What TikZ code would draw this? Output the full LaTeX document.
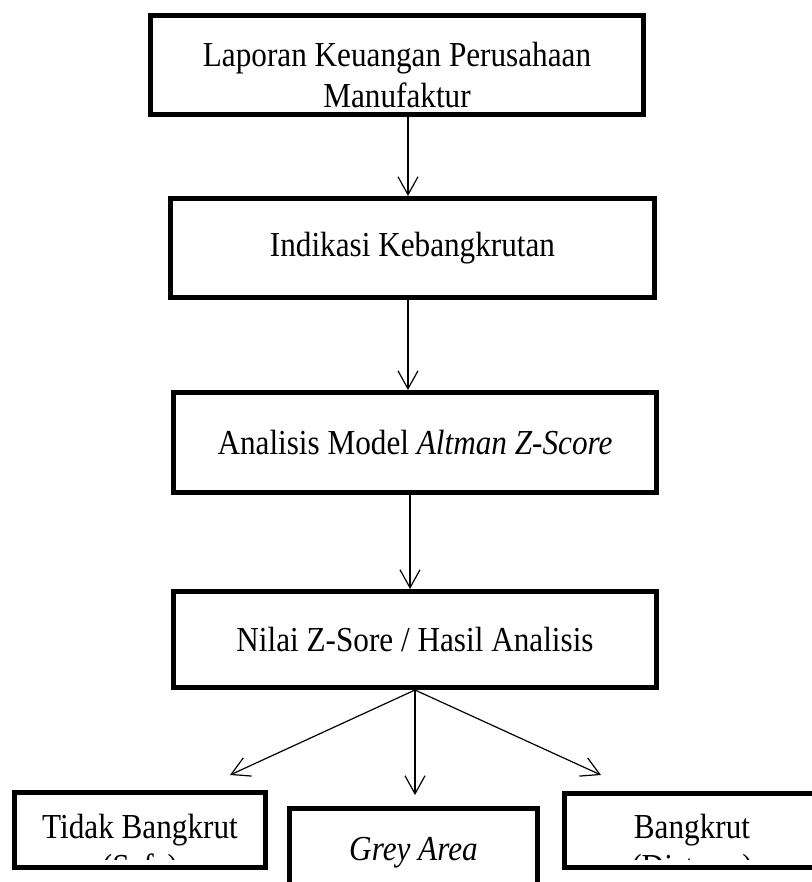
\documentclass[tikz,border=0pt]{standalone}
\usepackage{fontspec}
\setmainfont{Liberation Serif}[FakeStretch=0.89]
\usetikzlibrary{arrows.meta}

\begin{document}
\begin{tikzpicture}[x=0.75pt, y=-0.75pt,
    every node/.style={font=\fontsize{26.3}{31}\selectfont},
    kotak/.style={draw, line width=4pt, inner sep=0pt, align=center},
    panah/.style={-{Straight Barb[length=13.5pt,width=15pt]}, line width=0.9pt}]
    \useasboundingbox (0,0) rectangle (811,882);
    % Kotak alur utama
    \node[kotak, minimum width=369.5pt, minimum height=74pt] (laporan) at (397,65) {};
    \node[align=center] (laporanTeks) at (397,75) {Laporan Keuangan Perusahaan\\Manufaktur};
    \node[kotak, minimum width=362.75pt, minimum height=74pt] (indikasi) at (412.5,248)
        {Indikasi Kebangkrutan};
    \node[kotak, minimum width=362pt, minimum height=74.75pt] (analisis) at (415,442.5)
        {Analisis Model \textit{Altman Z-Score}};
    \node[kotak, minimum width=362pt, minimum height=71.75pt] (hasil) at (415,639.5)
        {Nilai Z-Sore / Hasil Analisis};
    % Kotak hasil klasifikasi
    \node[kotak, minimum width=188pt, minimum height=56pt] (aman) at (140,830)
        {Tidak Bangkrut};
    \node[kotak, minimum width=185.75pt, minimum height=66.5pt] (abu) at (413.5,853)
        {\textit{Grey Area}};
    \node[kotak, minimum width=191pt, minimum height=55.25pt] (bangkrut) at (692,830.5)
        {Bangkrut};
    % Baris kedua yang terpotong
    \begin{scope}
        \clip (0,845) rectangle (811,859);
        \node[anchor=base] (amanKet) at (140,878) {(Safe)};
        \node[anchor=base] (bangkrutKet) at (692,878) {(Distress)};
    \end{scope}
    % Panah antar kotak
    \draw[panah] ([xshift=8.25pt]laporan.south) -- ([xshift=8.25pt]laporan.south |- indikasi.north);
    \draw[panah] ([xshift=-3.4pt]indikasi.south) -- ([xshift=-3.4pt]indikasi.south |- analisis.north);
    \draw[panah] ([xshift=-3.75pt]analisis.south) -- ([xshift=-3.75pt]analisis.south |- hasil.north);
    % Panah ke tiga kategori
    \coordinate (ujungAman) at (230,775);
    \coordinate (ujungAbu) at (415,795);
    \coordinate (ujungBangkrut) at (601,775);
    \draw[panah] (hasil.south) -- (ujungAman);
    \draw[panah] (hasil.south) -- (ujungAbu);
    \draw[panah] (hasil.south) -- (ujungBangkrut);
\end{tikzpicture}
\end{document}
